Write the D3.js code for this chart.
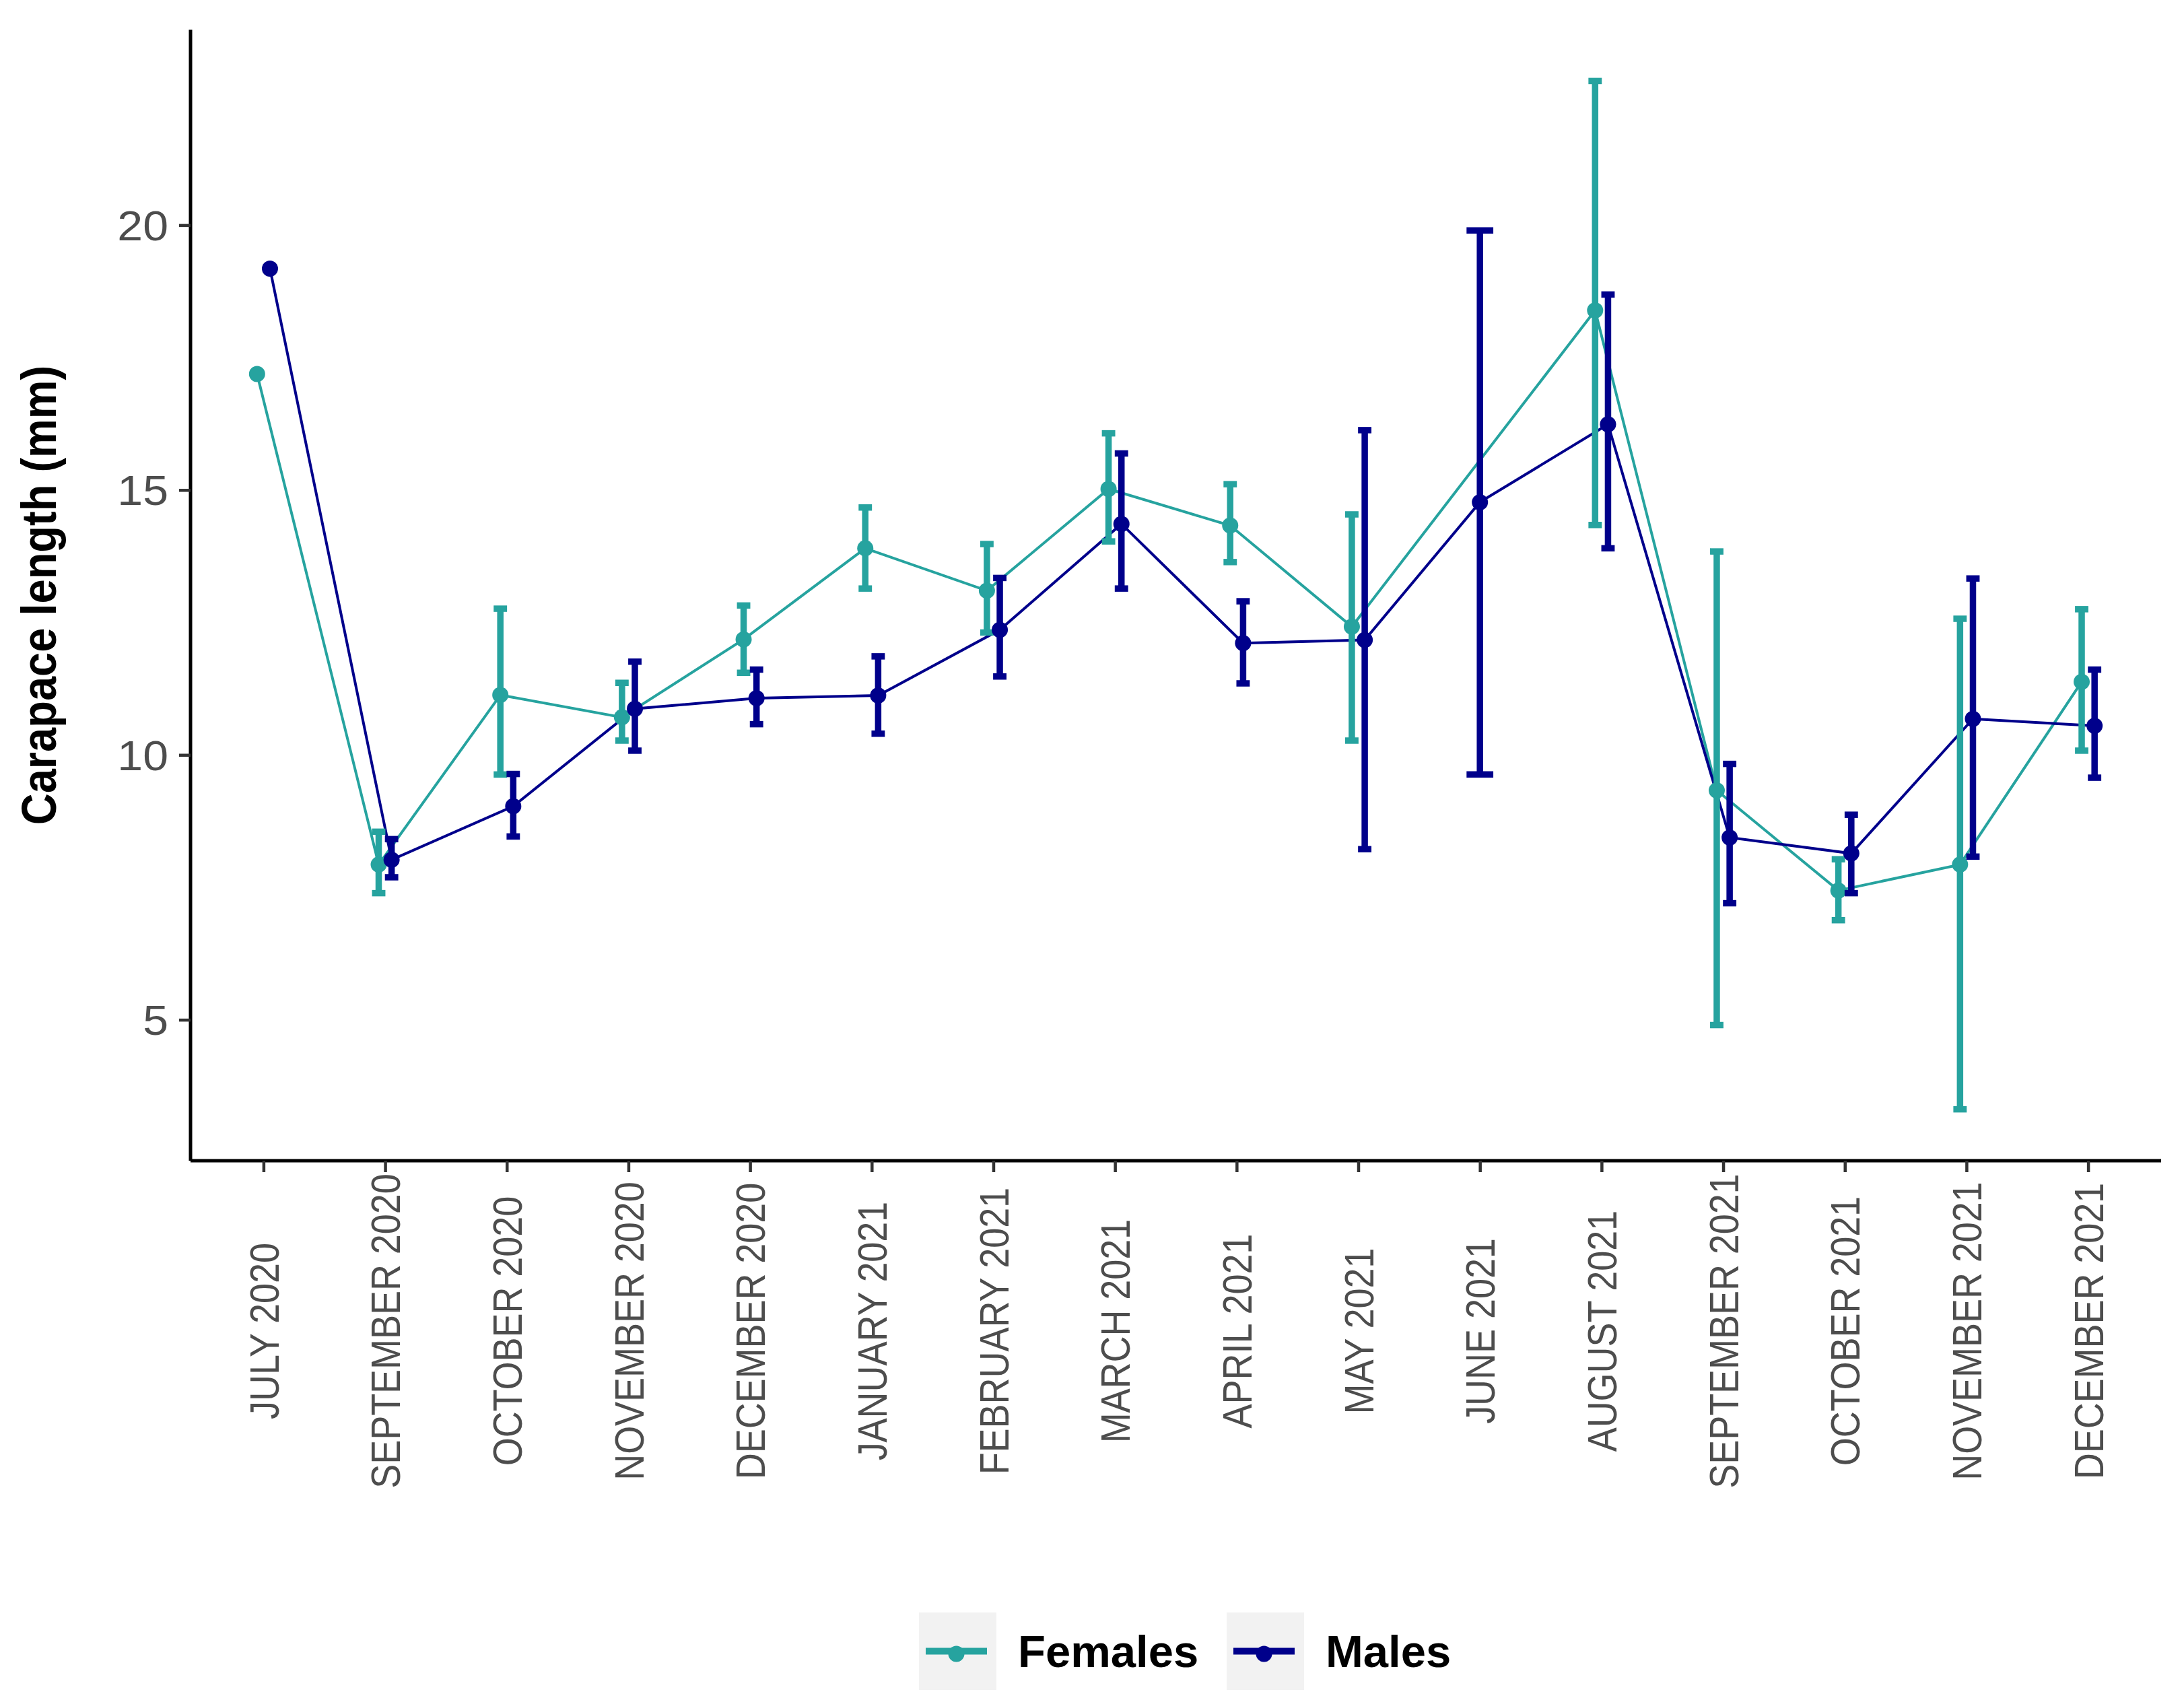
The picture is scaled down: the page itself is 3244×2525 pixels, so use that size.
<!DOCTYPE html>
<html>
<head>
<meta charset="utf-8">
<script src="https://cdn.jsdelivr.net/npm/d3@7"></script>
<style>
  html, body { margin: 0; padding: 0; background: #fff; }
  svg { display: block; font-family: "Liberation Sans", Arial, sans-serif; }
</style>
</head>
<body>
<svg id="chart"></svg>
<script>
"use strict";

// sampling months (x categories)
var months = ["JULY 2020", "SEPTEMBER 2020", "OCTOBER 2020", "NOVEMBER 2020", "DECEMBER 2020",
    "JANUARY 2021", "FEBRUARY 2021", "MARCH 2021", "APRIL 2021", "MAY 2021", "JUNE 2021",
    "AUGUST 2021", "SEPTEMBER 2021", "OCTOBER 2021", "NOVEMBER 2021", "DECEMBER 2021"];

// carapace length (mm), null = no value
var femaleMean = [17.19, 7.93, 11.13, 10.71, 12.18, 13.90, 13.10, 15.02, 14.33, 12.42, null, 18.39, 9.33, 7.44, 7.93, 11.38];
var femaleLow  = [null, 7.39, 9.63, 10.27, 11.55, 13.14, 12.31, 14.03, 13.64, 10.27, null, 14.34, 4.90, 6.88, 3.31, 10.08];
var femaleHigh = [null, 8.55, 12.76, 11.36, 12.82, 14.67, 13.98, 16.07, 15.11, 14.54, null, 22.72, 13.84, 8.03, 12.57, 12.75];

var maleMean = [19.18, 8.02, 9.03, 10.87, 11.07, 11.12, 12.36, 14.36, 12.11, 12.17, 14.77, 16.24, 8.44, 8.14, 10.68, 10.55];
var maleLow  = [null, 7.69, 8.46, 10.08, 10.58, 10.40, 11.48, 13.14, 11.35, 8.22, 9.63, 13.90, 7.20, 7.39, 8.08, 9.57];
var maleHigh = [null, 8.41, 9.64, 11.76, 11.61, 11.86, 13.34, 15.69, 12.90, 16.13, 19.90, 18.69, 9.83, 8.87, 13.33, 11.61];

var yTicks = [5, 10, 15, 20];
var seriesNames = ["Females", "Males"];
var seriesColors = ["#26A39F", "#00008B"];

var width = 3244, height = 2525;
var plot = { left: 283, right: 3210, top: 44, bottom: 1724 };

var svg = d3.select("#chart")
    .attr("width", width)
    .attr("height", height);

svg.append("rect").attr("width", width).attr("height", height).attr("fill", "#fff");

var series = [
    { name: seriesNames[0], color: seriesColors[0], mean: femaleMean, low: femaleLow, high: femaleHigh },
    { name: seriesNames[1], color: seriesColors[1], mean: maleMean, low: maleLow, high: maleHigh }
];

// y domain = data range with 5% expansion like ggplot
var allVals = [].concat(femaleMean, femaleLow, femaleHigh, maleMean, maleLow, maleHigh)
    .filter(function(v) { return v != null; });
var ext = d3.extent(allVals);
var pad = (ext[1] - ext[0]) * 0.05;

var x = d3.scalePoint()
    .domain(months)
    .range([plot.left, plot.right])
    .padding(0.6);

var y = d3.scaleLinear()
    .domain([ext[0] - pad, ext[1] + pad])
    .range([plot.bottom, plot.top]);

var step = x.step();
var dodge = step * 0.053;

// build points with dodge (single group at a month is centered)
series.forEach(function(s, si) {
    s.points = [];
    months.forEach(function(m, i) {
        if (s.mean[i] == null) return;
        var both = series.every(function(o) { return o.mean[i] != null; });
        var off = both ? (si === 0 ? -dodge : dodge) : 0;
        s.points.push({
            month: m,
            cx: x(m) + off,
            mean: s.mean[i],
            low: s.low[i],
            high: s.high[i],
            cap: both ? step * 0.11 : step * 0.22
        });
    });
});

var line = d3.line()
    .x(function(d) { return d.cx; })
    .y(function(d) { return y(d.mean); });

// lines
series.forEach(function(s) {
    svg.append("path")
        .datum(s.points)
        .attr("fill", "none")
        .attr("stroke", s.color)
        .attr("stroke-width", 4)
        .attr("d", line);
});

// error bars + points
series.forEach(function(s) {
    var g = svg.append("g");
    var bars = s.points.filter(function(d) { return d.low != null; });

    g.selectAll(".bar").data(bars).enter().append("line")
        .attr("x1", function(d) { return d.cx; })
        .attr("x2", function(d) { return d.cx; })
        .attr("y1", function(d) { return y(d.low); })
        .attr("y2", function(d) { return y(d.high); })
        .attr("stroke", s.color)
        .attr("stroke-width", 9.5);

    ["low", "high"].forEach(function(k) {
        g.selectAll(".cap-" + k).data(bars).enter().append("line")
            .attr("x1", function(d) { return d.cx - d.cap / 2; })
            .attr("x2", function(d) { return d.cx + d.cap / 2; })
            .attr("y1", function(d) { return y(d[k]); })
            .attr("y2", function(d) { return y(d[k]); })
            .attr("stroke", s.color)
            .attr("stroke-width", 9.5);
    });

    g.selectAll("circle").data(s.points).enter().append("circle")
        .attr("cx", function(d) { return d.cx; })
        .attr("cy", function(d) { return y(d.mean); })
        .attr("r", 12)
        .attr("fill", s.color);
});

// axes
var yAxis = svg.append("g")
    .attr("transform", "translate(" + plot.left + ",0)")
    .call(d3.axisLeft(y).tickValues(yTicks).tickSize(17).tickSizeOuter(0).tickPadding(16));

var xAxis = svg.append("g")
    .attr("transform", "translate(0," + plot.bottom + ")")
    .call(d3.axisBottom(x).tickSize(17).tickSizeOuter(0));

[yAxis, xAxis].forEach(function(a) {
    a.select(".domain").attr("stroke", "#000").attr("stroke-width", 5);
    a.selectAll(".tick line").attr("stroke", "#333").attr("stroke-width", 4.5);
    a.selectAll(".tick text")
        .attr("fill", "#4D4D4D")
        .attr("font-family", "Liberation Sans, Arial, sans-serif");
});

yAxis.select(".domain").attr("d", "M0," + plot.top + "V" + plot.bottom);
xAxis.select(".domain").attr("d", "M" + plot.left + ",0H" + plot.right);

// the picture is a little wider than tall, so glyphs are stretched sideways
yAxis.selectAll(".tick text")
    .attr("font-size", 63)
    .attr("dy", "0.35em")
    .attr("transform", function() {
        var tx = +d3.select(this).attr("x");
        return "translate(" + tx + ",0) scale(1.08,1) translate(" + (-tx) + ",0)";
    });

xAxis.selectAll(".tick text")
    .attr("font-size", 62)
    .attr("x", 0)
    .attr("y", 0)
    .attr("dy", "0.35em")
    .attr("text-anchor", "middle")
    .attr("transform", "translate(0,253) rotate(-90) scale(0.87,1)");

// y title
svg.append("text")
    .attr("transform", "translate(58," + ((plot.top + plot.bottom) / 2) + ") rotate(-90) scale(1,1.1)")
    .attr("text-anchor", "middle")
    .attr("dy", "0.35em")
    .attr("font-size", 65)
    .attr("font-weight", "bold")
    .attr("fill", "#000")
    .text("Carapace length (mm)");

// legend
var keySize = 115;
var legendX = [1365, 1822];
var legendY = 2395;

series.forEach(function(s, i) {
    var lg = svg.append("g").attr("transform", "translate(" + legendX[i] + "," + legendY + ")");
    lg.append("rect")
        .attr("width", keySize)
        .attr("height", keySize)
        .attr("fill", "#F2F2F2");
    lg.append("line")
        .attr("x1", 10).attr("x2", keySize - 14)
        .attr("y1", keySize / 2).attr("y2", keySize / 2)
        .attr("stroke", s.color)
        .attr("stroke-width", 10);
    lg.append("circle")
        .attr("cx", keySize / 2 - 2)
        .attr("cy", keySize / 2 + 4)
        .attr("r", 12)
        .attr("fill", s.color);
    lg.append("text")
        .attr("x", keySize + 32)
        .attr("y", keySize / 2)
        .attr("dy", "0.35em")
        .attr("font-size", 67)
        .attr("font-weight", "bold")
        .attr("fill", "#000")
        .text(s.name);
});
</script>
</body>
</html>
